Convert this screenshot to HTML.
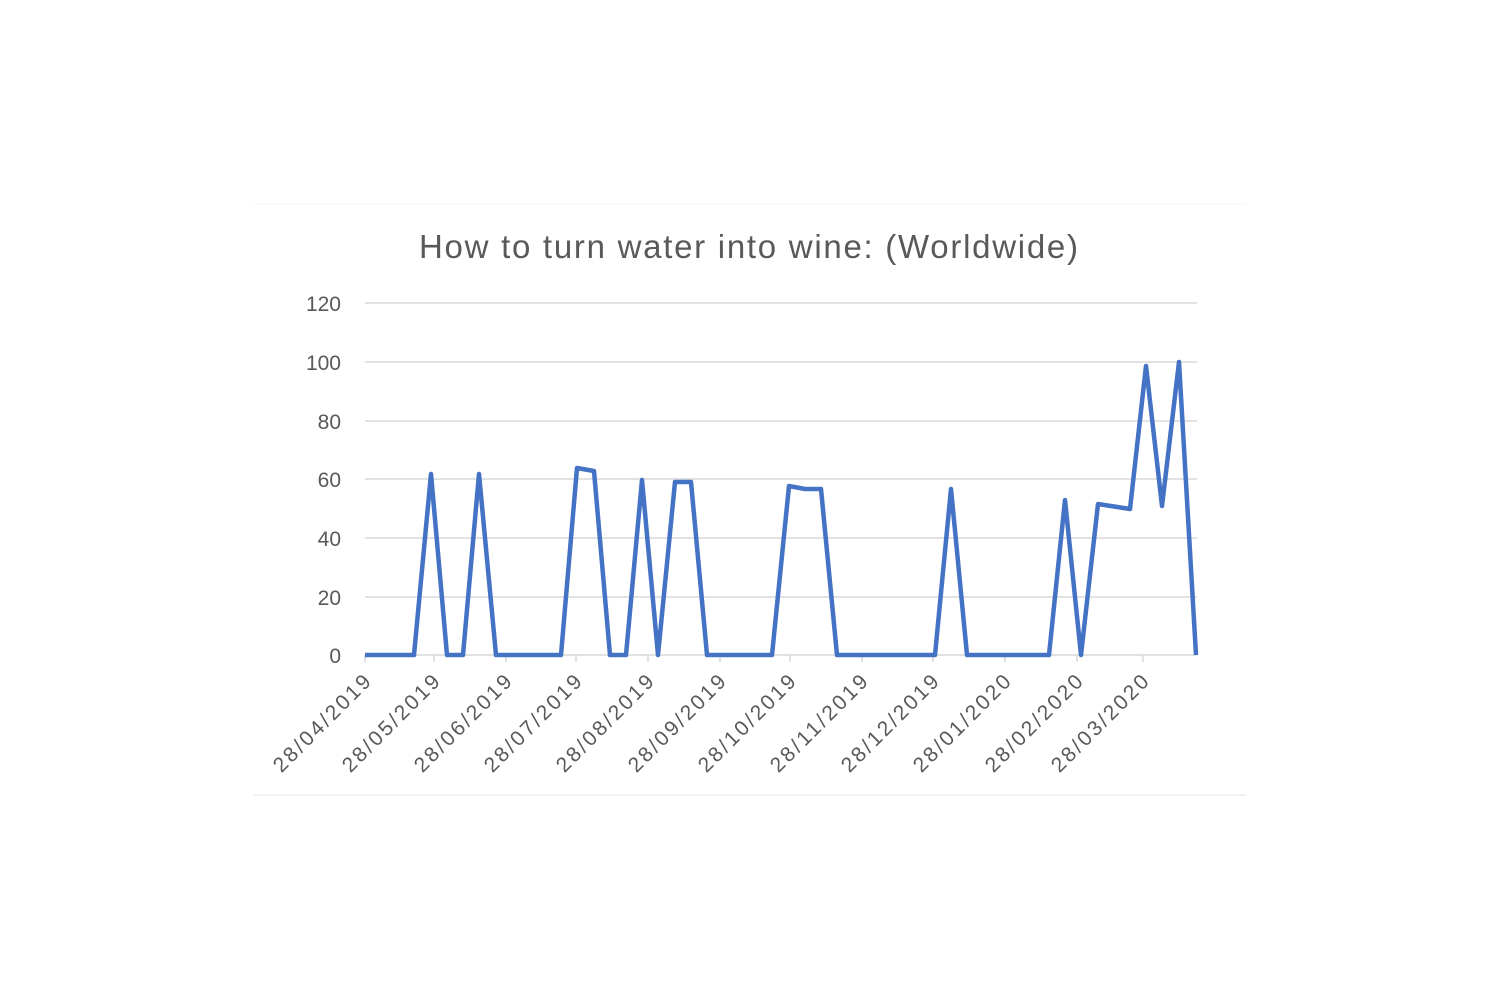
<!DOCTYPE html>
<html><head><meta charset="utf-8"><style>body{margin:0;background:#fff}</style></head><body>
<svg width="1500" height="1000" xmlns="http://www.w3.org/2000/svg" font-family="Liberation Sans, sans-serif">
<line x1="254" y1="795" x2="1246" y2="795" stroke="#e6e6e6"/>
<line x1="254" y1="204" x2="1246" y2="204" stroke="#f4f4f4"/>
<text x="419" y="258" font-size="33" fill="#595959" textLength="659" lengthAdjust="spacing">How to turn water into wine: (Worldwide)</text>
<g stroke="#d9d9d9" stroke-width="1.5">
<line x1="365" y1="303" x2="1197" y2="303"/><line x1="365" y1="362" x2="1197" y2="362"/>
<line x1="365" y1="421" x2="1197" y2="421"/><line x1="365" y1="479" x2="1197" y2="479"/>
<line x1="365" y1="538" x2="1197" y2="538"/><line x1="365" y1="597" x2="1197" y2="597"/>
<line x1="365" y1="655" x2="1197" y2="655"/>
<line x1="365" y1="655" x2="365" y2="662"/><line x1="434" y1="655" x2="434" y2="662"/><line x1="506" y1="655" x2="506" y2="662"/><line x1="576" y1="655" x2="576" y2="662"/><line x1="648" y1="655" x2="648" y2="662"/><line x1="720" y1="655" x2="720" y2="662"/><line x1="790" y1="655" x2="790" y2="662"/><line x1="862" y1="655" x2="862" y2="662"/><line x1="933" y1="655" x2="933" y2="662"/><line x1="1005" y1="655" x2="1005" y2="662"/><line x1="1077" y1="655" x2="1077" y2="662"/><line x1="1143" y1="655" x2="1143" y2="662"/>
</g>
<g font-size="21" fill="#595959" text-anchor="end">
<text x="341" y="311">120</text><text x="341" y="370">100</text><text x="341" y="429">80</text><text x="341" y="487">60</text><text x="341" y="546">40</text><text x="341" y="605">20</text><text x="341" y="663">0</text>
</g>
<g font-size="21" fill="#595959" text-anchor="end">
<text transform="translate(372,683) rotate(-45)" textLength="128" lengthAdjust="spacing">28/04/2019</text>
<text transform="translate(441,683) rotate(-45)" textLength="128" lengthAdjust="spacing">28/05/2019</text>
<text transform="translate(513,683) rotate(-45)" textLength="128" lengthAdjust="spacing">28/06/2019</text>
<text transform="translate(583,683) rotate(-45)" textLength="128" lengthAdjust="spacing">28/07/2019</text>
<text transform="translate(655,683) rotate(-45)" textLength="128" lengthAdjust="spacing">28/08/2019</text>
<text transform="translate(727,683) rotate(-45)" textLength="128" lengthAdjust="spacing">28/09/2019</text>
<text transform="translate(797,683) rotate(-45)" textLength="128" lengthAdjust="spacing">28/10/2019</text>
<text transform="translate(869,683) rotate(-45)" textLength="128" lengthAdjust="spacing">28/11/2019</text>
<text transform="translate(940,683) rotate(-45)" textLength="128" lengthAdjust="spacing">28/12/2019</text>
<text transform="translate(1012,683) rotate(-45)" textLength="128" lengthAdjust="spacing">28/01/2020</text>
<text transform="translate(1084,683) rotate(-45)" textLength="128" lengthAdjust="spacing">28/02/2020</text>
<text transform="translate(1150,683) rotate(-45)" textLength="128" lengthAdjust="spacing">28/03/2020</text>
</g>
<polyline fill="none" stroke="#4472c4" stroke-width="4.5" stroke-linejoin="round" points="365,655 414,655 431,474 447,655 463,655 479,474 496,655 561,655 577,468 594,471 610,655 626,655 642,480 658,655 675,482 691,482 707,655 772,655 789,486 805,489 821,489 837,655 935,655 951,489 967,655 1049,655 1065,500 1081,655 1098,504 1130,509 1146,366 1162,506 1179,362 1196,655"/>
</svg>
</body></html>
